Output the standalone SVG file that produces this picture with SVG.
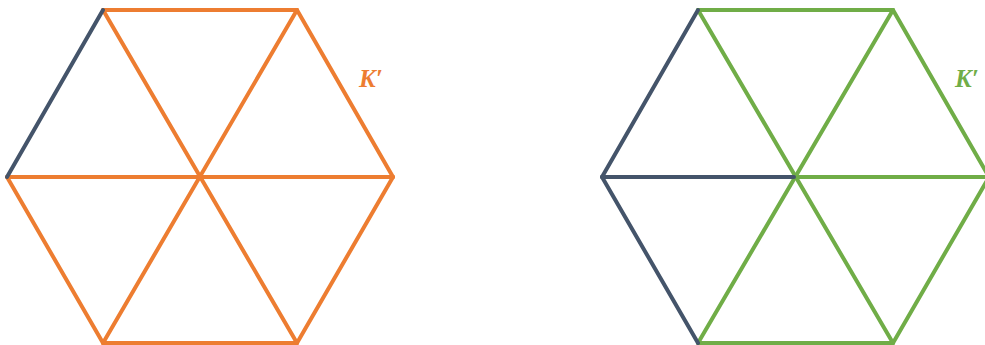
<svg xmlns="http://www.w3.org/2000/svg" width="985" height="345" viewBox="0 0 985 345">
<style>
line{stroke-width:4;stroke-linecap:round}
.o{stroke:#ED7D31}.g{stroke:#70AD47}.d{stroke:#44546A}
text{font-family:"Liberation Serif","DejaVu Serif",serif;font-weight:bold;font-style:italic;font-size:25px}
</style>
<rect width="985" height="345" fill="#fff"/>
<g id="connectors">
<g id="left-hexagon">
<line class="o" x1="103" y1="10" x2="297" y2="10"/>
<line class="o" x1="297" y1="10" x2="393" y2="177"/>
<line class="o" x1="393" y1="177" x2="297" y2="343"/>
<line class="o" x1="297" y1="343" x2="103" y2="343"/>
<line class="o" x1="103" y1="343" x2="7" y2="177"/>
<line class="o" x1="7" y1="177" x2="393" y2="177"/>
<line class="o" x1="103" y1="10" x2="297" y2="343"/>
<line class="o" x1="297" y1="10" x2="103" y2="343"/>
<line class="d" x1="103" y1="10" x2="7" y2="177"/>
</g>
<g id="right-hexagon">
<line class="g" x1="698" y1="10" x2="893" y2="10"/>
<line class="g" x1="893" y1="10" x2="989" y2="177"/>
<line class="g" x1="989" y1="177" x2="893" y2="343"/>
<line class="g" x1="893" y1="343" x2="698" y2="343"/>
<line class="g" x1="796" y1="177" x2="989" y2="177"/>
<line class="g" x1="698" y1="10" x2="893" y2="343"/>
<line class="g" x1="893" y1="10" x2="698" y2="343"/>
<line class="d" x1="698" y1="10" x2="602" y2="177"/>
<line class="d" x1="602" y1="177" x2="698" y2="343"/>
<line class="d" x1="602" y1="177" x2="794" y2="177"/>
</g>
</g>
<g id="label-left"><text x="359" y="87" fill="#ED7D31">K′</text></g>
<g id="label-right"><text x="955" y="87" fill="#70AD47">K′</text></g>
</svg>
